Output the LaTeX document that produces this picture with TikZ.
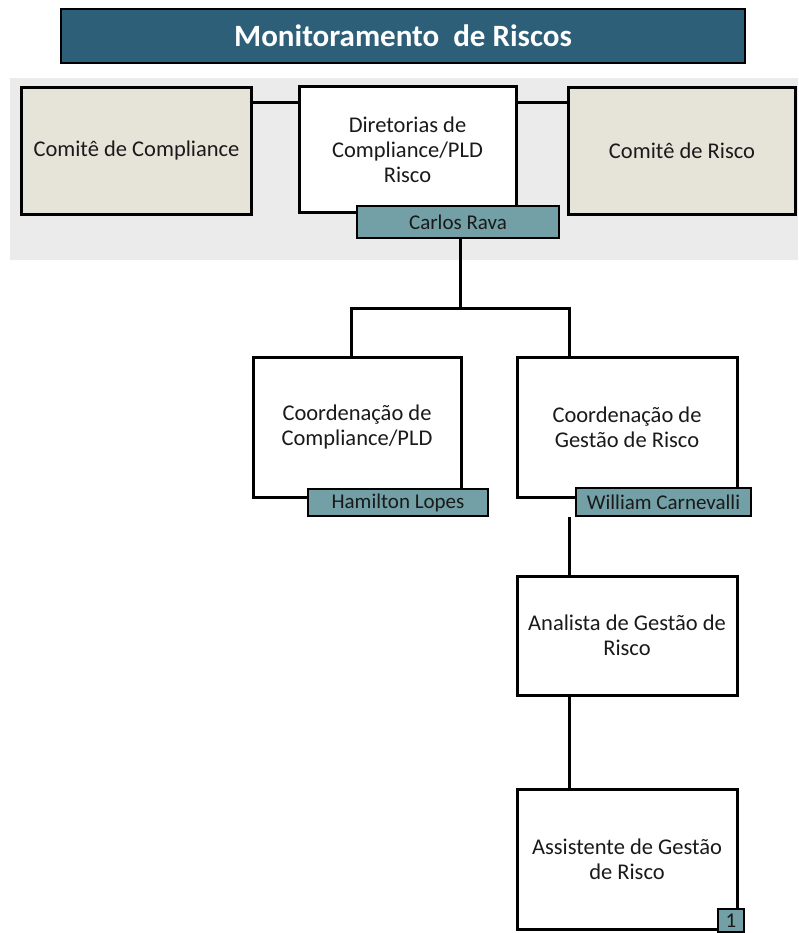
\documentclass[tikz,border=0pt]{standalone}
\usepackage{fontspec}
\setmainfont{Carlito}
\newfontfamily\titlefont{Carlito}
\definecolor{titlebg}{HTML}{2E5F78}
\definecolor{graybg}{HTML}{EBEBEB}
\definecolor{beige}{HTML}{E6E3D8}
\definecolor{teal}{HTML}{72A0A6}
\definecolor{txt}{HTML}{1A1A1A}
\tikzset{
  box/.style={draw=black, line width=3pt, fill=white, inner sep=2pt, align=center, text=txt, font=\fontsize{22.5}{25}\selectfont},
  combox/.style={box, fill=beige},
  namebox/.style={draw=black, line width=2pt, fill=teal, inner sep=0pt, align=center, text=txt, font=\fontsize{21}{22}\selectfont},
  conn/.style={line width=3pt, black}
}
\begin{document}
\begin{tikzpicture}[x=1pt,y=-1pt]
\useasboundingbox (0,0) rectangle (798,933);
\fill[white] (0,0) rectangle (798,933);
% title
\node[draw=black, line width=1.5pt, fill=titlebg, minimum width=684pt, minimum height=54pt, inner sep=0pt,
  text=white, font=\titlefont\bfseries\fontsize{31}{34}\selectfont] (title) at (403,36) {Monitoramento\ \ de Riscos};
% gray band
\fill[graybg] (10,78) rectangle (798,260);
% top row
\node[combox, minimum width=230pt, minimum height=127pt] (cc) at (136.5,151) {Comitê de Compliance};
\node[box, minimum width=217pt, minimum height=126pt] (dir) at (407.5,150) {Diretorias de\\Compliance/PLD\\Risco};
\node[combox, minimum width=227pt, minimum height=127pt] (cr) at (682,151) {Comitê de Risco};
\draw[conn] (cc.east |- 0,103) -- (dir.west |- 0,103);
\draw[conn] (dir.east |- 0,103) -- (cr.west |- 0,103);
\node[namebox, minimum width=202pt, minimum height=32pt] (rava) at (458,222) {Carlos Rava};
% second level
\node[box, minimum width=208pt, minimum height=140pt] (ccomp) at (357,427) {Coordenação de\\Compliance/PLD};
\node[box, minimum width=220pt, minimum height=140pt] (crisk) at (627,427) {Coordenação de\\Gestão de Risco};
\coordinate (bus) at (460,308);
\coordinate (jl) at (351,308);
\coordinate (jr) at (569,308);
\draw[conn] (rava.south -| bus) -- (bus);
\draw[conn] (ccomp.north -| jl) -- (jl) -- (jr) -- (crisk.north -| jr);
\node[namebox, minimum width=180pt, minimum height=27pt] (hl) at (398,502.5) {Hamilton Lopes};
\node[namebox, minimum width=175pt, minimum height=28pt] (wc) at (663.5,502) {William Carnevalli};
% third & fourth
\node[box, minimum width=220pt, minimum height=119pt] (ana) at (627,635.5) {Analista de Gestão de\\Risco};
\node[box, minimum width=220pt, minimum height=140pt] (ass) at (627,859) {Assistente de Gestão\\de Risco};
\draw[conn] (wc.south -| jr) -- (ana.north -| jr);
\draw[conn] (ana.south -| jr) -- (ass.north -| jr);
\node[namebox, minimum width=26pt, minimum height=23pt] (one) at (731,920.5) {1};
\end{tikzpicture}
\end{document}
